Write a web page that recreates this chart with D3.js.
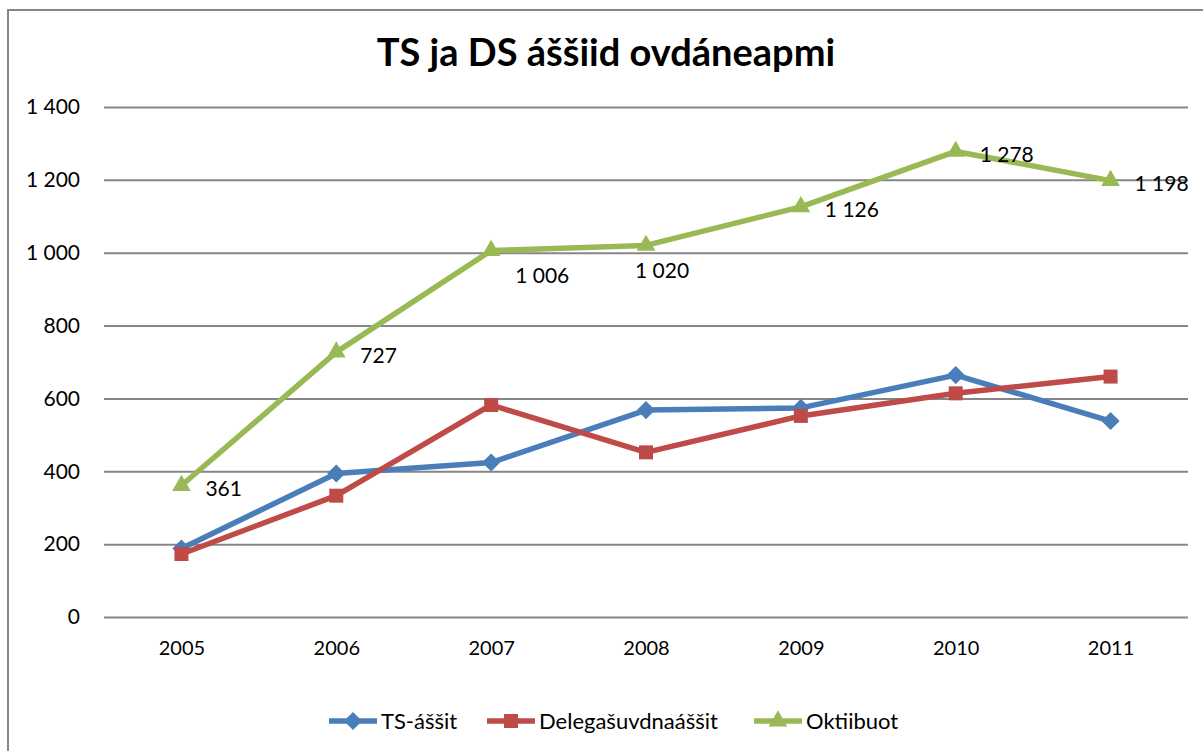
<!DOCTYPE html>
<html>
<head>
<meta charset="utf-8">
<script src="https://cdn.jsdelivr.net/npm/d3@7"></script>
<style>
  body { margin: 0; background: #fff; }
  svg { display: block; font-family: Lato, "Open Sans", sans-serif; }
</style>
</head>
<body>
<svg id="chart" width="1203" height="751"></svg>
<script>
const years = [2005, 2006, 2007, 2008, 2009, 2010, 2011];
const tsAssit = [188, 394, 424, 568, 574, 664, 538];
const delegasuvdnaAssit = [173, 333, 582, 452, 552, 614, 660];
const oktiibuot = [361, 727, 1006, 1020, 1126, 1278, 1198];
const yTicks = [0, 200, 400, 600, 800, 1000, 1200, 1400];

const series = [
  { name: "TS-áššit", values: tsAssit, color: "#4A7EBB", marker: "diamond" },
  { name: "Delegašuvdnaáššit", values: delegasuvdnaAssit, color: "#BE4B48", marker: "square" },
  { name: "Oktiibuot", values: oktiibuot, color: "#98B954", marker: "triangle", labels: true }
];

// hand-moved labels in the original (offsets from the point)
const labelNudge = { 2007: [24, 25], 2008: [-11, 25] };

const fmt = v => d3.format(",")(v).replace(/,/g, " ");

const svg = d3.select("#chart");
const margin = { top: 107, right: 15, bottom: 134, left: 104 };
const width = 1203 - margin.left - margin.right;
const height = 751 - margin.top - margin.bottom;

// outer frame
svg.append("rect")
  .attr("x", 8).attr("y", 10)
  .attr("width", 1220).attr("height", 800)
  .attr("fill", "none")
  .attr("stroke", "#868686")
  .attr("stroke-width", 2);

svg.append("text")
  .attr("x", 606).attr("y", 66)
  .attr("text-anchor", "middle")
  .attr("font-size", 38)
  .attr("font-weight", "bold")
  .text("TS ja DS áššiid ovdáneapmi");

const x = d3.scalePoint().domain(years).range([0, width]).padding(0.5);
const y = d3.scaleLinear().domain([0, 1400]).range([height, 0]);

const g = svg.append("g").attr("transform", `translate(${margin.left},${margin.top})`);

const yAxis = g.append("g")
  .call(d3.axisLeft(y).tickValues(yTicks).tickSize(-width).tickPadding(24).tickFormat(fmt));
yAxis.select(".domain").remove();
yAxis.selectAll(".tick line").attr("stroke", "#868686").attr("stroke-width", 2);
yAxis.selectAll(".tick text").attr("font-size", 21).attr("fill", "#000").attr("font-family", "Lato");

const xAxis = g.append("g")
  .attr("transform", `translate(0,${height})`)
  .call(d3.axisBottom(x).tickSize(0).tickPadding(24));
xAxis.select(".domain").remove();
xAxis.selectAll(".tick text").attr("font-size", 20).attr("fill", "#000").attr("font-family", "Lato");

const symbols = {
  diamond: d3.symbol().type(d3.symbolDiamond2).size(210),
  square: d3.symbol().type(d3.symbolSquare2).size(250),
  triangle: d3.symbol().type(d3.symbolTriangle2).size(250)
};

const line = d3.line().x((d, i) => x(years[i])).y(d => y(d));

series.forEach(s => {
  g.append("path")
    .datum(s.values)
    .attr("fill", "none")
    .attr("stroke", s.color)
    .attr("stroke-width", 5.5)
    .attr("stroke-linejoin", "round")
    .attr("d", line);

  g.selectAll(null)
    .data(s.values)
    .enter()
    .append("path")
    .attr("transform", (d, i) => `translate(${x(years[i])},${y(d)})`)
    .attr("d", symbols[s.marker]())
    .attr("fill", s.color);

  if (s.labels) {
    g.selectAll(null)
      .data(s.values)
      .enter()
      .append("text")
      .attr("x", (d, i) => x(years[i]) + (labelNudge[years[i]] ? labelNudge[years[i]][0] : 24))
      .attr("y", (d, i) => y(d) + (labelNudge[years[i]] ? labelNudge[years[i]][1] : 3))
      .attr("dy", "0.35em")
      .attr("font-size", 21)
      .text(d => fmt(d));
  }
});

// legend
const legendX = [329, 487, 754];
const legend = svg.append("g").attr("transform", "translate(0,721)");
series.forEach((s, i) => {
  const item = legend.append("g").attr("transform", `translate(${legendX[i]},0)`);
  item.append("line")
    .attr("x1", 0).attr("x2", 48)
    .attr("stroke", s.color).attr("stroke-width", 5.5);
  item.append("path")
    .attr("transform", "translate(24,0)")
    .attr("d", symbols[s.marker]())
    .attr("fill", s.color);
  item.append("text")
    .attr("x", 52)
    .attr("dy", "0.35em")
    .attr("font-size", 22)
    .text(s.name);
});
</script>
</body>
</html>
